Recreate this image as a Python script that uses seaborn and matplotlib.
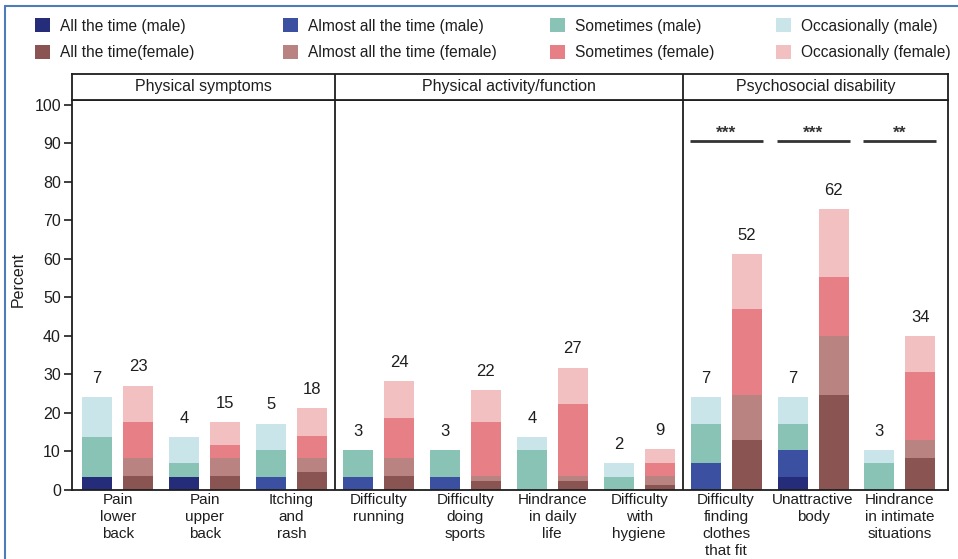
import numpy as np
import pandas as pd
import matplotlib
matplotlib.use("Agg")
import matplotlib.pyplot as plt
from matplotlib.patches import Patch
from matplotlib.lines import Line2D
import seaborn as sns

# ---- data -------------------------------------------------------------
items = [
    "Pain\nlower\nback", "Pain\nupper\nback", "Itching\nand\nrash",
    "Difficulty\nrunning", "Difficulty\ndoing\nsports", "Hindrance\nin daily\nlife",
    "Difficulty\nwith\nhygiene", "Difficulty\nfinding\nclothes\nthat fit",
    "Unattractive\nbody", "Hindrance\nin intimate\nsituations",
]
domains = ["Physical symptoms", "Physical activity/function", "Psychosocial disability"]
domain_sizes = [3, 4, 3]

n_male = 29
n_female = 85

# respondents per frequency level (bottom to top of each stack)
all_time_male = [1, 1, 0, 0, 0, 0, 0, 0, 1, 0]
almost_male = [0, 0, 1, 1, 1, 0, 0, 2, 2, 0]
sometimes_male = [3, 1, 2, 2, 2, 3, 1, 3, 2, 2]
occasionally_male = [3, 2, 2, 0, 0, 1, 1, 2, 2, 1]

all_time_female = [3, 3, 4, 3, 2, 2, 1, 11, 21, 7]
almost_female = [4, 4, 3, 4, 1, 1, 2, 10, 13, 4]
sometimes_female = [8, 3, 5, 9, 12, 16, 3, 19, 13, 15]
occasionally_female = [8, 5, 6, 8, 7, 8, 3, 12, 15, 8]

sig_items = [7, 8, 9]
sig_marks = ["***", "***", "**"]

male_labels = ["All the time (male)", "Almost all the time (male)",
               "Sometimes (male)", "Occasionally (male)"]
female_labels = ["All the time(female)", "Almost all the time (female)",
                 "Sometimes (female)", "Occasionally (female)"]

# ---- style ------------------------------------------------------------
male_colors = ["#252d7a", "#3c50a2", "#88c3b6", "#cae5e9"]
female_colors = ["#8a5452", "#b88381", "#e67f86", "#f3c0c2"]
ink = "#1e1e1e"

sns.set_style("ticks")
plt.rcParams["font.family"] = ["Liberation Sans", "DejaVu Sans"]
plt.rcParams["text.color"] = ink
plt.rcParams["axes.labelcolor"] = ink
plt.rcParams["xtick.color"] = ink
plt.rcParams["ytick.color"] = ink

W, H = 958, 559
fig = plt.figure(figsize=(W / 100, H / 100), dpi=100)

x_left, x_right = 72, 948
y_top, y_bottom, y_head = 99.5, 490, 74
ax = fig.add_axes([x_left / W, 1 - y_bottom / H, (x_right - x_left) / W, (y_bottom - y_top) / H])
hax = fig.add_axes([x_left / W, 1 - y_top / H, (x_right - x_left) / W, (y_top - y_head) / H])

male_levels = [all_time_male, almost_male, sometimes_male, occasionally_male]
female_levels = [all_time_female, almost_female, sometimes_female, occasionally_female]
male_cum = np.cumsum(np.array(male_levels), axis=0)
female_cum = np.cumsum(np.array(female_levels), axis=0)

bar_width = 0.944
bar_gap = 0.269
# draw the stacks from the top level down so lower levels overlay
for k in reversed(range(4)):
    layer = pd.DataFrame({
        "item": items * 2,
        "sex": ["male"] * len(items) + ["female"] * len(items),
        "pct": list(male_cum[k] / n_male * 100) + list(female_cum[k] / n_female * 100),
    })
    sns.barplot(data=layer, x="item", y="pct", hue="sex", order=items,
                hue_order=["male", "female"],
                palette={"male": male_colors[k], "female": female_colors[k]},
                width=bar_width, gap=bar_gap, saturation=1, linewidth=0,
                errorbar=None, legend=False, ax=ax)

# count labels above each bar
off = bar_width / 4
for i in range(len(items)):
    m_tot = int(male_cum[-1][i])
    f_tot = int(female_cum[-1][i])
    ax.text(i - off, m_tot / n_male * 100 + 4.9, str(m_tot), ha="center", va="center",
            fontsize=12)
    ax.text(i + off, f_tot / n_female * 100 + 4.9, str(f_tot), ha="center", va="center",
            fontsize=12)

# significance brackets
for i, mark in zip(sig_items, sig_marks):
    ax.hlines(90.5, i - 0.42, i + 0.42, color="#333333", lw=2)
    ax.text(i, 92.6, mark, ha="center", va="center", fontsize=12.5, fontweight="bold",
            color="#333333")

xlim = (-0.526, 9.553)
ax.set_xlim(*xlim)
ax.set_ylim(0, 101.4)
ax.set_yticks(np.arange(0, 101, 10))
ax.set_xticks(range(len(items)), labels=items, linespacing=1.27)
ax.set_xlabel("")
ax.set_ylabel("Percent", fontsize=11.5)
ax.yaxis.set_label_coords(-0.053, 0.54)
ax.tick_params(axis="y", length=6, width=1.2, labelsize=11.5, pad=2)
ax.tick_params(axis="x", length=0, labelsize=11, pad=2)
for s in ax.spines.values():
    s.set_visible(True)
    s.set_linewidth(1.3)
    s.set_color(ink)

# domain dividers and header strip
bounds = np.cumsum(domain_sizes)[:-1] - 0.5
for b in bounds:
    ax.axvline(b, color=ink, lw=1.3)
    hax.axvline(b, color=ink, lw=1.3)
hax.set_xlim(*xlim)
hax.set_ylim(0, 1)
hax.set_xticks([])
hax.set_yticks([])
for s in hax.spines.values():
    s.set_visible(True)
    s.set_linewidth(1.3)
    s.set_color(ink)
edges = [xlim[0]] + list(bounds) + [xlim[1]]
for j, name in enumerate(domains):
    hax.text((edges[j] + edges[j + 1]) / 2, 0.5, name, ha="center", va="center", fontsize=11.5)

# legend: four columns of male/female pairs
col_x = [35, 283, 550, 776]
for k in range(4):
    handles = [Patch(facecolor=male_colors[k], edgecolor="none"),
               Patch(facecolor=female_colors[k], edgecolor="none")]
    fig.legend(handles, [male_labels[k], female_labels[k]],
               loc="upper left", bbox_to_anchor=(col_x[k] / W, 1 - 18.5 / H),
               frameon=False, fontsize=11.2, handlelength=0.95, handleheight=0.95,
               handletextpad=0.65, labelspacing=0.75, borderpad=0, borderaxespad=0)

# thin frame along the top and left edges
fig.add_artist(Line2D([5 / W, 5 / W], [0, 1 - 6 / H], transform=fig.transFigure,
                      color="#4d7db8", lw=1.5))
fig.add_artist(Line2D([5 / W, 1], [1 - 6 / H, 1 - 6 / H], transform=fig.transFigure,
                      color="#4d7db8", lw=1.5))

fig.savefig("out.png", dpi=100)
